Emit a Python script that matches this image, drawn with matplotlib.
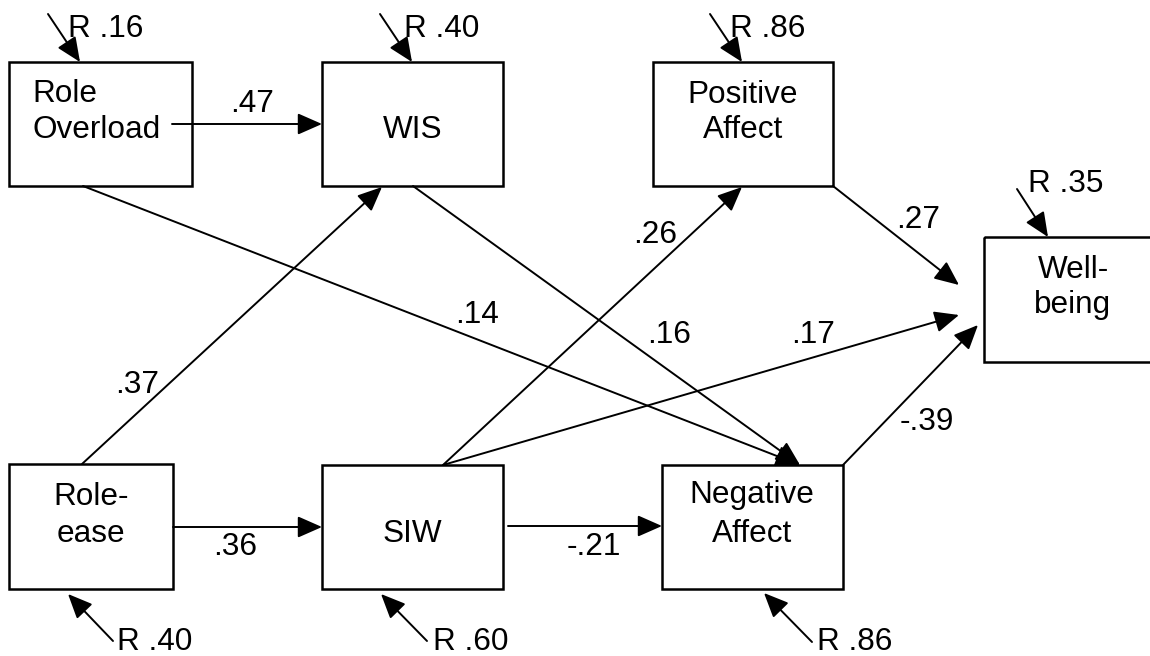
import matplotlib.pyplot as plt
from matplotlib.patches import Rectangle, FancyArrowPatch

plt.rcParams['font.family'] = ['Liberation Sans', 'DejaVu Sans']

# variables in the model
nodes = ["Role Overload", "WIS", "Positive Affect", "Well-being",
         "Role-ease", "SIW", "Negative Affect"]
node_text = {
    "Role Overload": ["Role", "Overload"],
    "WIS": ["WIS"],
    "Positive Affect": ["Positive", "Affect"],
    "Well-being": ["Well-", "being"],
    "Role-ease": ["Role-", "ease"],
    "SIW": ["SIW"],
    "Negative Affect": ["Negative", "Affect"],
}

# path coefficients
path_from = ["Role Overload", "Role Overload", "WIS", "Role-ease", "Role-ease",
             "SIW", "SIW", "SIW", "Positive Affect", "Negative Affect"]
path_to = ["WIS", "Negative Affect", "Negative Affect", "WIS", "SIW",
           "Negative Affect", "Positive Affect", "Well-being", "Well-being", "Well-being"]
path_coef = [".47", ".14", ".16", ".37", ".36", "-.21", ".26", ".17", ".27", "-.39"]

# residuals
resid_node = ["Role Overload", "WIS", "Positive Affect", "Well-being",
              "Role-ease", "SIW", "Negative Affect"]
resid_val = [".16", ".40", ".86", ".35", ".40", ".60", ".86"]

# ---- layout (pixels, y downwards) ----
W, H = 1150, 656
boxes = {  # x0, y0, x1, y1
    "Role Overload": (9, 62, 192, 186),
    "WIS": (322, 62, 503, 186),
    "Positive Affect": (653, 62, 833, 186),
    "Well-being": (984, 237, 1166, 362),
    "Role-ease": (9, 464, 173, 589),
    "SIW": (322, 465, 503, 589),
    "Negative Affect": (662, 465, 843, 589),
}
# text: x, alignment, baselines
text_pos = {
    "Role Overload": (32, 'left', [102, 138]),
    "WIS": (413, 'center', [138]),
    "Positive Affect": (743, 'center', [103, 138]),
    "Well-being": (1073, 'center', [278, 313]),
    "Role-ease": (91, 'center', [505, 542]),
    "SIW": (412, 'center', [542]),
    "Negative Affect": (752, 'center', [503, 542]),
}
path_xy = [((172, 124), (322, 124)), ((83, 186), (800, 465)), ((413, 186), (800, 465)),
           ((82, 464), (382, 187)), ((173, 527), (322, 527)), ((508, 526), (662, 526)),
           ((443, 465), (742, 187)), ((443, 465), (959, 315)), ((833, 186), (959, 285)),
           ((843, 465), (978, 325))]
path_lab = [(230, 112), (455, 323), (647, 343), (115, 393), (213, 555), (567, 555),
            (633, 243), (791, 343), (896, 228), (900, 430)]
resid_xy = [((48, 14), (80, 62)), ((380, 14), (412, 62)), ((710, 14), (742, 62)),
            ((1017, 189), (1048, 237)), ((113, 641), (68, 594)),
            ((427, 641), (381, 594)), ((812, 642), (764, 593))]
resid_lab = [(68, 37), (404, 37), (730, 37), (1028, 192), (117, 650), (433, 650), (817, 650)]

fs = 22.7
fig = plt.figure(figsize=(W / 100, H / 100), dpi=100)
ax = fig.add_axes([0, 0, 1, 1])
ax.set_xlim(0, W)
ax.set_ylim(H, 0)
ax.axis('off')

for n in nodes:
    x0, y0, x1, y1 = boxes[n]
    ax.add_patch(Rectangle((x0, y0), x1 - x0, y1 - y0, fill=False, lw=1.8, ec='black'))
    tx, ha, bls = text_pos[n]
    for line, bl in zip(node_text[n], bls):
        ax.text(tx, bl, line, ha=ha, va='baseline', fontsize=fs)


def arrow(p0, p1):
    ax.add_patch(FancyArrowPatch(p0, p1, arrowstyle='-|>,head_length=0.75,head_width=0.33',
                                 mutation_scale=20, lw=1.4, color='black',
                                 shrinkA=0, shrinkB=0))


for i in range(len(path_coef)):
    arrow(*path_xy[i])
    ax.text(path_lab[i][0], path_lab[i][1], path_coef[i], ha='left', va='baseline', fontsize=fs)

for i in range(len(resid_val)):
    arrow(*resid_xy[i])
    ax.text(resid_lab[i][0], resid_lab[i][1], "R " + resid_val[i], ha='left', va='baseline',
            fontsize=fs)

fig.savefig('out.png', dpi=100)
